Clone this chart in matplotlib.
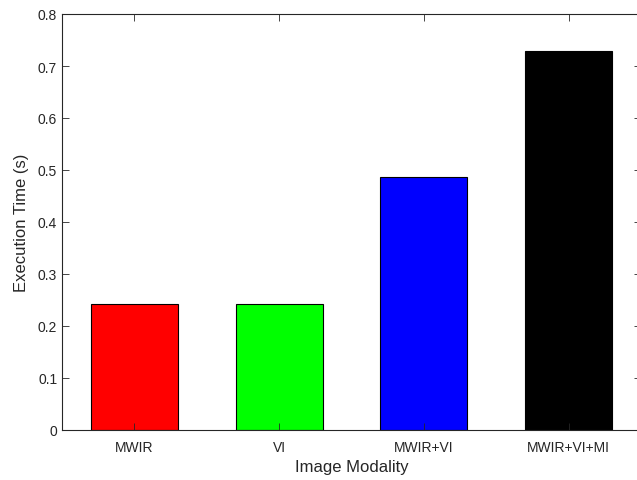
import matplotlib.pyplot as plt

modalities = ["MWIR", "VI", "MWIR+VI", "MWIR+VI+MI"]
exec_time = [0.243, 0.243, 0.487, 0.729]
bar_colors = ["#ff0000", "#00ff00", "#0000ff", "#000000"]

plt.rcParams["font.family"] = ["Liberation Sans", "DejaVu Sans"]

fig = plt.figure(figsize=(6.37, 4.81), dpi=100)
ax = fig.add_axes([62 / 637, 50 / 481, 579 / 637, 416 / 481])

pos = list(range(1, len(modalities) + 1))
ax.bar(pos, exec_time, width=0.6, color=bar_colors, edgecolor="black", linewidth=0.8, zorder=1)

ax.set_xlim(0.5, 4.5)
ax.set_ylim(0, 0.8)
ax.set_xticks(pos)
ax.set_xticklabels(modalities)
ax.set_yticks([0, 0.1, 0.2, 0.3, 0.4, 0.5, 0.6, 0.7, 0.8])
ax.set_yticklabels(["0", "0.1", "0.2", "0.3", "0.4", "0.5", "0.6", "0.7", "0.8"])

gray = (0.15, 0.15, 0.15)
for s in ax.spines.values():
    s.set_color(gray)
    s.set_linewidth(0.8)
ax.tick_params(direction="in", top=True, right=True, length=5, width=0.6,
               colors=gray, labelsize=10, labelcolor=gray)
ax.tick_params(axis="x", pad=7.5)
ax.set_axisbelow(False)

ax.set_xlabel("Image Modality", fontsize=12, color=gray, labelpad=3)
ax.set_ylabel("Execution Time (s)", fontsize=12, color=gray, labelpad=6)

fig.savefig("out.png", dpi=100)
